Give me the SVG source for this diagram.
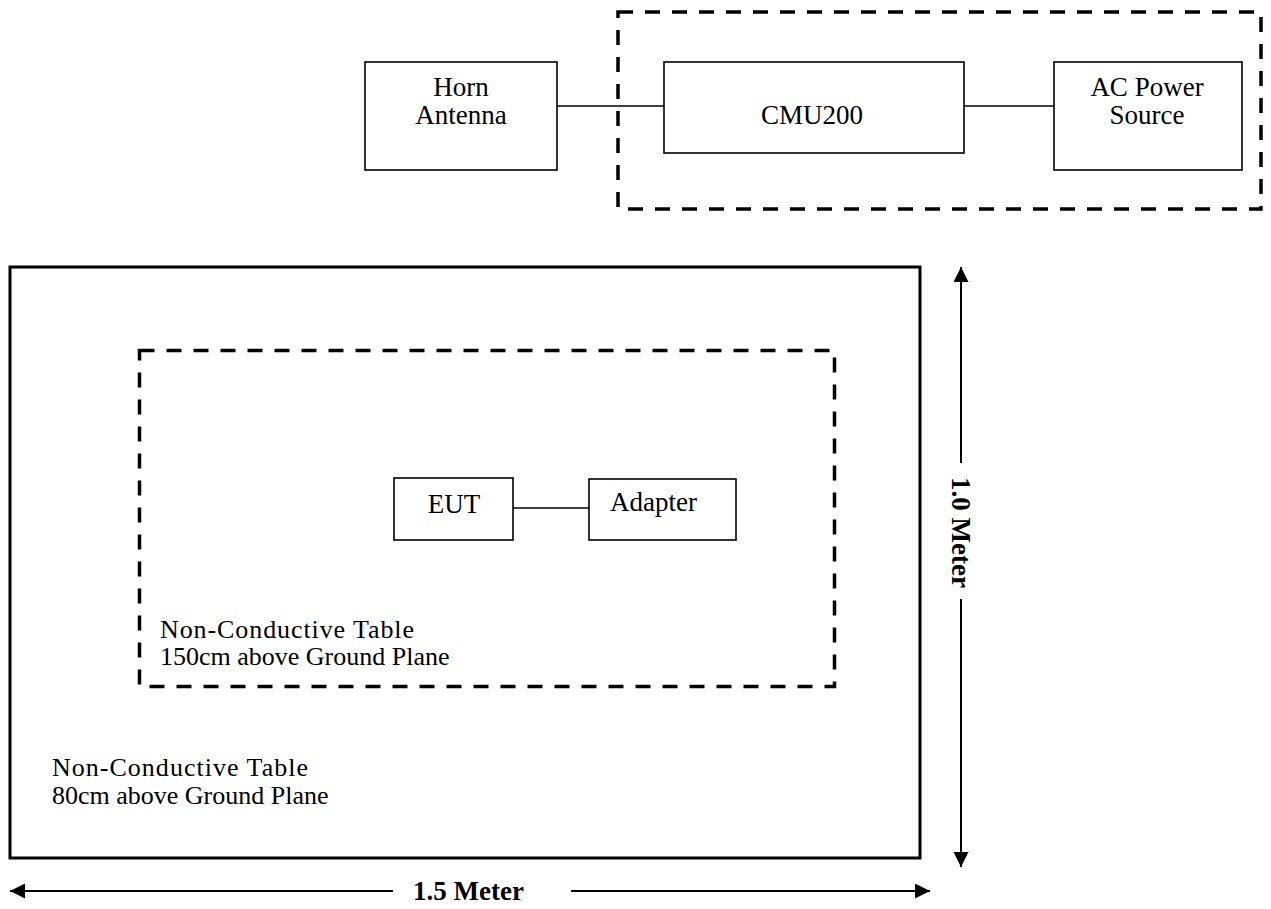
<svg xmlns="http://www.w3.org/2000/svg" width="1271" height="909" viewBox="0 0 1271 909">
<style>
  .box{fill:#fff;stroke:#000;stroke-width:1.6}
  .dash{fill:none;stroke:#000;stroke-width:3.5;stroke-dasharray:15 12}
  .wire{stroke:#000;stroke-width:1.6;fill:none}
  .dim{stroke:#000;stroke-width:2;fill:none;marker-end:url(#ah)}
  text{font-family:"Liberation Serif","Times New Roman",serif;font-size:26px;fill:#000}
  .lbl{font-size:27px}
  .c{text-anchor:middle}
  .b{font-weight:bold;font-size:27px}
</style>
<defs>
  <marker id="ah" markerUnits="userSpaceOnUse" markerWidth="16" markerHeight="16" refX="15" refY="7.5" orient="auto">
    <path d="M0,0 L15,7.5 L0,15 z" fill="#000"/>
  </marker>
</defs>
<rect width="1271" height="909" fill="#fff"/>

<g id="outer-table">
  <rect x="10" y="267" width="910" height="591" fill="none" stroke="#000" stroke-width="3"/>
  <text x="52" y="776" textLength="256">Non-Conductive Table</text>
  <text x="52" y="804">80cm above Ground Plane</text>
</g>

<g id="inner-table">
  <rect class="dash" x="139.5" y="350.5" width="695" height="336"/>
  <text x="160" y="638" textLength="254">Non-Conductive Table</text>
  <text x="160" y="665">150cm above Ground Plane</text>
</g>

<g id="support-equipment">
  <rect class="dash" x="618" y="12" width="643" height="197"/>
</g>

<g id="connectors">
  <line class="wire" x1="557" y1="106" x2="664" y2="106"/>
  <line class="wire" x1="964" y1="106" x2="1054" y2="106"/>
  <line class="wire" x1="513" y1="508" x2="589" y2="508"/>
</g>

<g id="horn-antenna">
  <rect class="box" x="365" y="62" width="192" height="108"/>
  <text class="c lbl" x="461" y="96">Horn</text>
  <text class="c lbl" x="461" y="124">Antenna</text>
</g>

<g id="cmu200">
  <rect class="box" x="664" y="62" width="300" height="91"/>
  <text class="c lbl" x="812" y="124">CMU200</text>
</g>

<g id="ac-power-source">
  <rect class="box" x="1054" y="62" width="188" height="108"/>
  <text class="c lbl" x="1147" y="96">AC Power</text>
  <text class="c lbl" x="1147" y="124">Source</text>
</g>

<g id="eut">
  <rect class="box" x="394" y="478" width="119" height="62" stroke-width="2.5"/>
  <text class="c lbl" x="454" y="513">EUT</text>
</g>

<g id="adapter">
  <rect class="box" x="589" y="479" width="147" height="61"/>
  <text class="lbl" x="610" y="511">Adapter</text>
</g>

<g id="dimensions">
  <line class="dim" x1="393" y1="891" x2="10" y2="891"/>
  <line class="dim" x1="571" y1="891" x2="930" y2="891"/>
  <text class="b" x="413" y="900">1.5 Meter</text>
  <line class="dim" x1="961" y1="463" x2="961" y2="267"/>
  <line class="dim" x1="961" y1="599" x2="961" y2="867"/>
  <text class="b" transform="translate(952,477) rotate(90)">1.0 Meter</text>
</g>
</svg>
